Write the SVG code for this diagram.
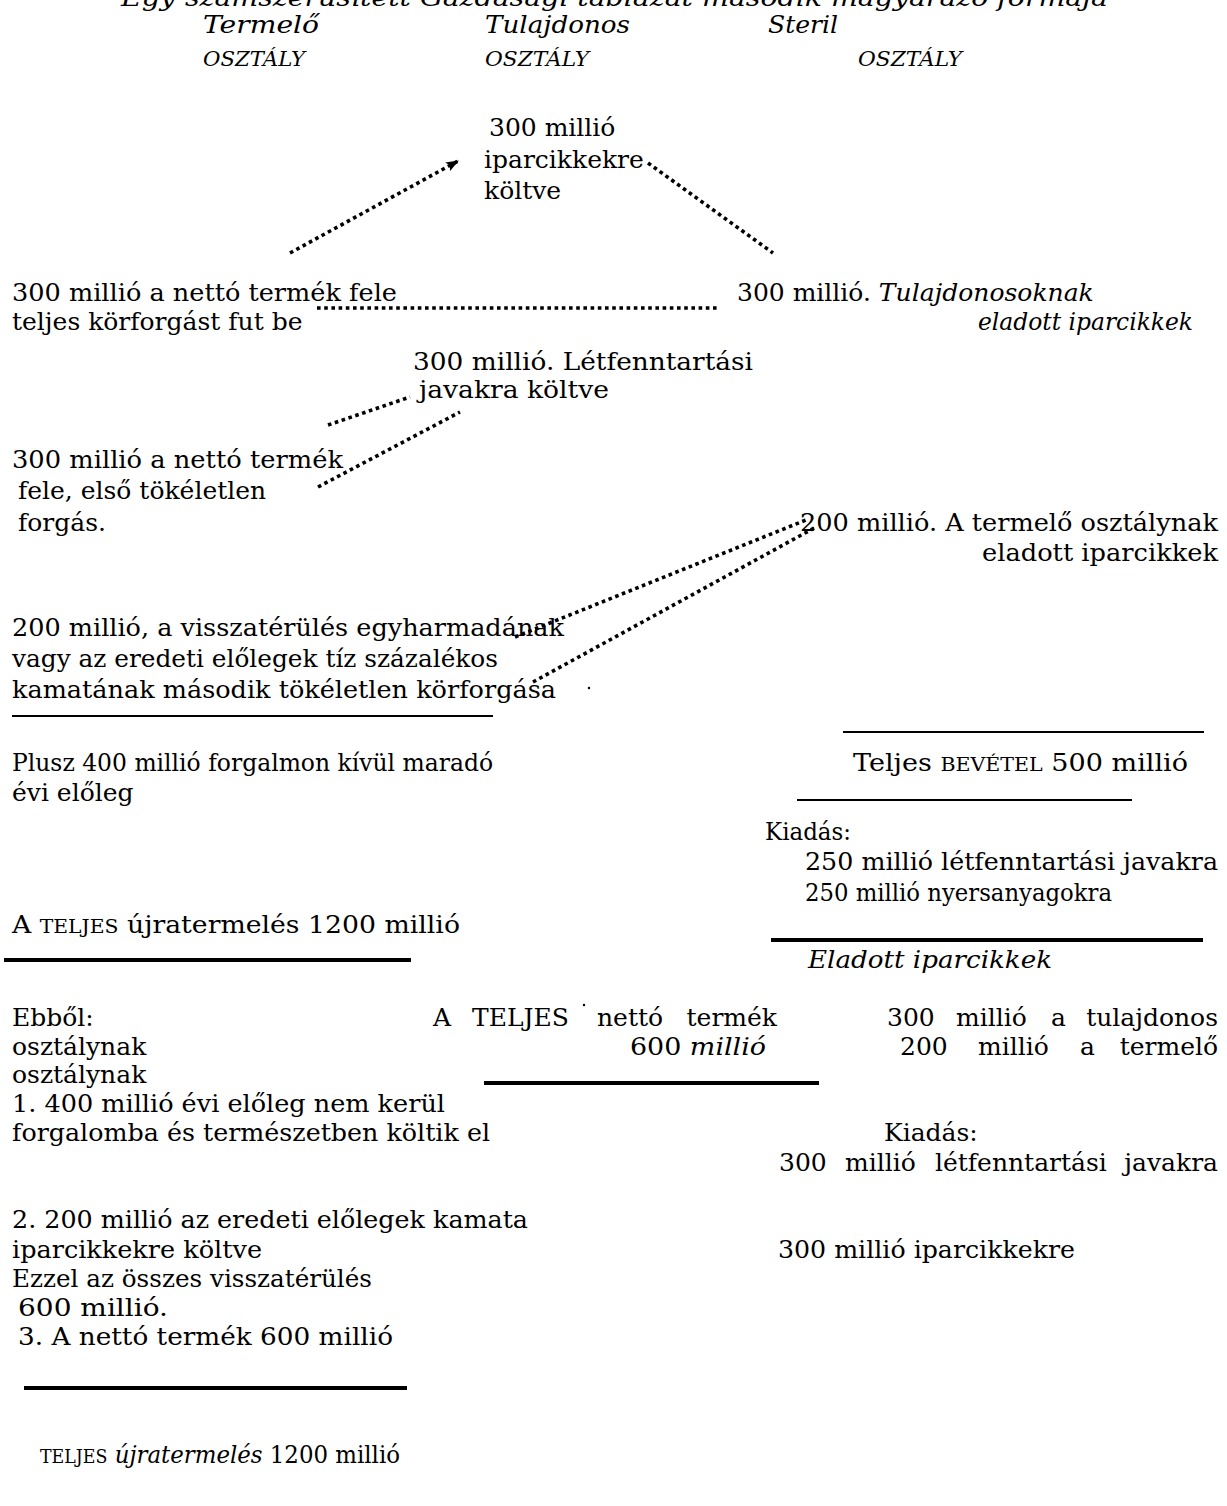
<svg xmlns="http://www.w3.org/2000/svg" width="1227" height="1506" viewBox="0 0 1227 1506">
<style>
text{font-family:"DejaVu Serif","Liberation Serif",serif;font-size:25px;fill:#000}
.it{font-style:italic}
.sc{font-size:19px}
.hd{font-style:italic;font-size:20px}
.dot{fill:none;stroke:#000;stroke-width:3.6;stroke-dasharray:3.6 3.6}
.rule{stroke:#000;fill:none}
</style>
<defs>
<marker id="ah" markerUnits="userSpaceOnUse" markerWidth="16" markerHeight="12" refX="12" refY="5" orient="auto">
<path d="M0,0 L13,5 L0,10 L3,5 z" fill="#000"/>
</marker>
</defs>
<rect width="1227" height="1506" fill="#fff"/>
<g id="header">
<text class="it" x="121" y="6" textLength="987" lengthAdjust="spacingAndGlyphs">Egy számszerűsített Gazdasági táblázat második magyarázó formája</text>
<text class="it" x="203" y="33" textLength="116" lengthAdjust="spacingAndGlyphs">Termelő</text>
<text class="it" x="485" y="33" textLength="145" lengthAdjust="spacingAndGlyphs">Tulajdonos</text>
<text class="it" x="768" y="33" textLength="70" lengthAdjust="spacingAndGlyphs">Steril</text>
<text class="hd" x="203" y="66" textLength="102" lengthAdjust="spacingAndGlyphs">OSZTÁLY</text>
<text class="hd" x="485" y="66" textLength="104" lengthAdjust="spacingAndGlyphs">OSZTÁLY</text>
<text class="hd" x="858" y="66" textLength="104" lengthAdjust="spacingAndGlyphs">OSZTÁLY</text>
</g>
<g id="n-ipar-kolt">
<text x="489" y="136">300 millió</text>
<text x="484" y="168">iparcikkekre</text>
<text x="484" y="199">költve</text>
</g>
<g id="n-teljes-korf">
<text x="12" y="301" textLength="385" lengthAdjust="spacingAndGlyphs">300 millió a nettó termék fele</text>
<text x="12" y="330">teljes körforgást fut be</text>
</g>
<g id="n-tulaj-eladott">
<text x="737" y="301">300 millió. <tspan class="it">Tulajdonosoknak</tspan></text>
<text class="it" x="978" y="330" textLength="215" lengthAdjust="spacingAndGlyphs">eladott iparcikkek</text>
</g>
<g id="n-letf">
<text x="413" y="370" textLength="340" lengthAdjust="spacingAndGlyphs">300 millió. Létfenntartási</text>
<text x="419" y="398" textLength="190" lengthAdjust="spacingAndGlyphs">javakra költve</text>
</g>
<g id="n-elso">
<text x="12" y="468" textLength="331" lengthAdjust="spacingAndGlyphs">300 millió a nettó termék</text>
<text x="18" y="499">fele, első tökéletlen</text>
<text x="18" y="531">forgás.</text>
</g>
<g id="n-termelo-eladott">
<text x="800" y="531" textLength="418" lengthAdjust="spacingAndGlyphs">200 millió. A termelő osztálynak</text>
<text x="982" y="561" textLength="236" lengthAdjust="spacingAndGlyphs">eladott iparcikkek</text>
</g>
<g id="n-masodik">
<text x="12" y="636" textLength="552" lengthAdjust="spacingAndGlyphs">200 millió, a visszatérülés egyharmadának</text>
<text x="12" y="667" textLength="486" lengthAdjust="spacingAndGlyphs">vagy az eredeti előlegek tíz százalékos</text>
<text x="12" y="698" textLength="544" lengthAdjust="spacingAndGlyphs">kamatának második tökéletlen körforgása</text>
</g>
<g id="n-plusz">
<text x="12" y="771" textLength="481" lengthAdjust="spacingAndGlyphs">Plusz 400 millió forgalmon kívül maradó</text>
<text x="12" y="801">évi előleg</text>
</g>
<g id="n-bevetel">
<text x="853" y="771" textLength="335" lengthAdjust="spacingAndGlyphs">Teljes <tspan class="sc">BEVÉTEL</tspan><tspan dx="8">500 millió</tspan></text>
</g>
<g id="n-kiadas1">
<text x="765" y="840" textLength="86" lengthAdjust="spacingAndGlyphs">Kiadás:</text>
<text x="805" y="870" textLength="413" lengthAdjust="spacingAndGlyphs">250 millió létfenntartási javakra</text>
<text x="805" y="901" textLength="307" lengthAdjust="spacingAndGlyphs">250 millió nyersanyagokra</text>
</g>
<g id="n-ujrater1">
<text x="12" y="933" textLength="448" lengthAdjust="spacingAndGlyphs">A <tspan class="sc">TELJES</tspan><tspan dx="8">újratermelés 1200 millió</tspan></text>
</g>
<g id="n-eladott-ipar">
<text class="it" x="808" y="968" textLength="244" lengthAdjust="spacingAndGlyphs">Eladott iparcikkek</text>
</g>
<g id="n-ebbol">
<text x="12" y="1026">Ebből:</text>
<text x="12" y="1055">osztálynak</text>
<text x="12" y="1083">osztálynak</text>
<text x="12" y="1112" textLength="433" lengthAdjust="spacingAndGlyphs">1. 400 millió évi előleg nem kerül</text>
<text x="12" y="1141" textLength="478" lengthAdjust="spacingAndGlyphs">forgalomba és természetben költik el</text>
<text x="12" y="1228" textLength="516" lengthAdjust="spacingAndGlyphs">2. 200 millió az eredeti előlegek kamata</text>
<text x="12" y="1258" textLength="250" lengthAdjust="spacingAndGlyphs">iparcikkekre költve</text>
<text x="12" y="1287" textLength="360" lengthAdjust="spacingAndGlyphs">Ezzel az összes visszatérülés</text>
<text x="18" y="1316" textLength="150" lengthAdjust="spacingAndGlyphs">600 millió.</text>
<text x="18" y="1345" textLength="375" lengthAdjust="spacingAndGlyphs">3.<tspan dx="8">A nettó termék 600 millió</tspan></text>
</g>
<g id="n-netto">
<text x="433" y="1026">A</text>
<text x="472" y="1026">TELJES</text>
<text x="597" y="1026">nettó</text>
<text x="777" y="1026" text-anchor="end">termék</text>
<text x="630" y="1055" textLength="136" lengthAdjust="spacingAndGlyphs">600 <tspan class="it">millió</tspan></text>
</g>
<g id="n-tulaj-termelo">
<text x="887" y="1026">300</text>
<text x="956" y="1026">millió</text>
<text x="1051" y="1026">a</text>
<text x="1218" y="1026" text-anchor="end">tulajdonos</text>
<text x="900" y="1055">200</text>
<text x="978" y="1055">millió</text>
<text x="1080" y="1055">a</text>
<text x="1218" y="1055" text-anchor="end">termelő</text>
</g>
<g id="n-kiadas2">
<text x="884" y="1141">Kiadás:</text>
<text x="779" y="1171">300</text>
<text x="845" y="1171">millió</text>
<text x="935" y="1171">létfenntartási</text>
<text x="1218" y="1171" text-anchor="end">javakra</text>
<text x="778" y="1258" textLength="297" lengthAdjust="spacingAndGlyphs">300 millió iparcikkekre</text>
</g>
<g id="n-ujrater2">
<text x="40" y="1463" textLength="360" lengthAdjust="spacingAndGlyphs"><tspan class="sc">TELJES</tspan> <tspan class="it">újratermelés</tspan> 1200 millió</text>
</g>
<g id="rules">
<line class="rule" x1="12" y1="716" x2="493" y2="716" stroke-width="2"/>
<line class="rule" x1="843" y1="732" x2="1204" y2="732" stroke-width="2"/>
<line class="rule" x1="797" y1="800" x2="1132" y2="800" stroke-width="2"/>
<line class="rule" x1="771" y1="940" x2="1203" y2="940" stroke-width="4"/>
<line class="rule" x1="4" y1="960" x2="411" y2="960" stroke-width="4"/>
<line class="rule" x1="484" y1="1083" x2="819" y2="1083" stroke-width="4"/>
<line class="rule" x1="24" y1="1388" x2="407" y2="1388" stroke-width="4"/>
<circle cx="589" cy="688" r="1.2" fill="#000"/>
<circle cx="584" cy="1005" r="1.2" fill="#000"/>
</g>
<g id="connectors">
<line class="dot" x1="290" y1="253" x2="458" y2="161" marker-end="url(#ah)"/>
<line class="dot" x1="648" y1="163" x2="773" y2="253"/>
<line class="dot" x1="317" y1="308" x2="718" y2="308"/>
<line class="dot" x1="328" y1="425" x2="410" y2="397"/>
<line class="dot" x1="318" y1="487" x2="460" y2="412"/>
<line class="dot" x1="515" y1="637" x2="806" y2="520"/>
<line class="dot" x1="533" y1="682" x2="816" y2="527"/>
</g>
</svg>
